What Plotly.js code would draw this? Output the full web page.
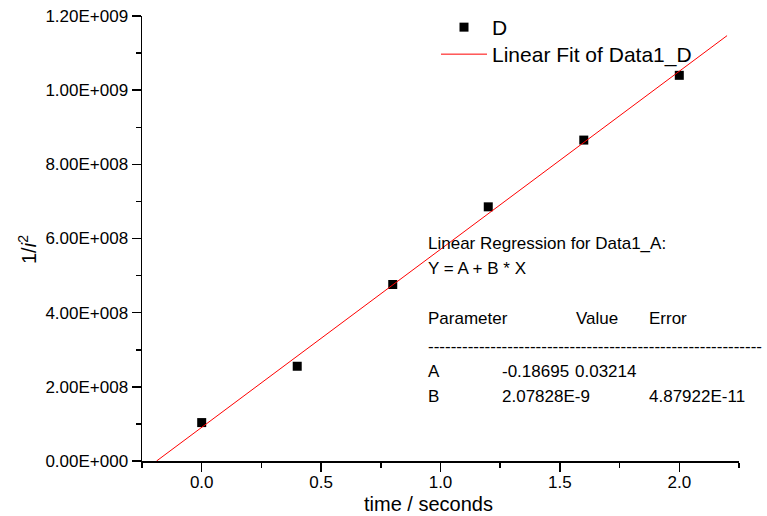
<!DOCTYPE html>
<html>
<head>
<meta charset="utf-8">
<script src="https://cdn.plot.ly/plotly-3.0.1.min.js"></script>
<style>html,body{margin:0;padding:0;background:#fff;}#chart{width:767px;height:516px;}</style>
</head>
<body>
<div id="chart"></div>
<script>
// ---- data ----
const timeSeconds = [0.0, 0.4, 0.8, 1.2, 1.6, 2.0];
const invISquared = [1.036e8, 2.555e8, 4.76e8, 6.854e8, 8.654e8, 1.040e9];
const fitX = [-0.189, 2.2];
const fitY = [0, 1.147e9];
const yTickVals = [0, 2e8, 4e8, 6e8, 8e8, 1e9, 1.2e9];
const yTickText = ['0.00E+000', '2.00E+008', '4.00E+008', '6.00E+008', '8.00E+008', '1.00E+009', '1.20E+009'];
const regTitle = ['Linear Regression for Data1_A:', 'Y = A + B * X'];
const paramHeader = ['Parameter', 'Value', 'Error'];
const paramNames = ['A', 'B'];
const paramValues = ['-0.18695', '2.07828E-9'];
const paramErrors = ['0.03214', '4.87922E-11'];

// ---- layout helpers (pixel -> paper) ----
const W = 767, H = 516, L = 142, R = 28, T = 16, B = 55;
const pw = W - L - R, ph = H - T - B;
const px = v => (v - L) / pw;
const py = v => (H - B - v) / ph;
const FONT = 'Arial, "Liberation Sans", sans-serif';

function ann(text, x, y, extra) {
  return Object.assign({
    text: text, xref: 'paper', yref: 'paper', x: px(x), y: py(y),
    xanchor: 'left', yanchor: 'middle', showarrow: false,
    font: {family: FONT, size: 17, color: '#000'}
  }, extra || {});
}

const annotations = [
  ann(regTitle[0], 426, 243),
  ann(regTitle[1], 426, 268),
  ann(paramHeader[0], 426, 319),
  ann(paramHeader[1], 574, 319),
  ann(paramHeader[2], 647, 319),
  ann('-'.repeat(59), 426, 346),
  ann(paramNames[0], 426, 371),
  ann(paramValues[0], 500, 371),
  ann(paramErrors[0], 573, 371),
  ann(paramNames[1], 426, 396),
  ann(paramValues[1], 500, 396),
  ann(paramErrors[1], 647, 396),
  ann('time / seconds', 428, 504, {xanchor: 'center', font: {family: FONT, size: 20, color: '#000'}}),
  ann('1/<i>i</i><sup>2</sup>', 27, 250, {xanchor: 'center', textangle: -90, font: {family: FONT, size: 20, color: '#000'}})
];

const traces = [
  {
    x: timeSeconds, y: invISquared, name: 'D', type: 'scatter', mode: 'markers',
    marker: {symbol: 'square', size: 9, color: '#000'}, cliponaxis: false, legend: 'legend'
  },
  {
    x: fitX, y: fitY, name: 'Linear Fit of Data1_D', type: 'scatter', mode: 'lines',
    line: {color: '#ff0000', width: 1}, legend: 'legend2'
  }
];

function legendAt(topPx) {
  return {
    x: px(436), y: py(topPx), xanchor: 'left', yanchor: 'top',
    bgcolor: 'rgba(0,0,0,0)', borderwidth: 0,
    font: {family: FONT, size: 21, color: '#000'},
    itemwidth: 46
  };
}

const layout = {
  width: W, height: H,
  margin: {l: L, r: R, t: T, b: B, pad: 0, autoexpand: false},
  paper_bgcolor: '#fff', plot_bgcolor: '#fff',
  font: {family: FONT, size: 17, color: '#000'},
  showlegend: true,
  legend: legendAt(7),
  legend2: legendAt(34),
  xaxis: {
    range: [-0.25, 2.25], tickmode: 'linear', tick0: 0, dtick: 0.5, tickformat: '.1f',
    showgrid: false, zeroline: false, showline: true, linecolor: '#000', linewidth: 1.5,
    ticks: 'outside', ticklen: 9, tickwidth: 1.5, tickcolor: '#000',
    ticklabelstandoff: -4,
    tickfont: {family: FONT, size: 17, color: '#000'},
    minor: {tick0: 0.25, dtick: 0.5, ticks: 'outside', ticklen: 5, tickwidth: 1.5, tickcolor: '#000', showgrid: false},
    fixedrange: true
  },
  yaxis: {
    range: [0, 1.2e9], tickmode: 'array', tickvals: yTickVals, ticktext: yTickText,
    showgrid: false, zeroline: false, showline: true, linecolor: '#000', linewidth: 1.5,
    ticks: 'outside', ticklen: 9, tickwidth: 1.5, tickcolor: '#000',
    tickfont: {family: FONT, size: 17, color: '#000'},
    minor: {tick0: 1e8, dtick: 2e8, ticks: 'outside', ticklen: 5, tickwidth: 1.5, tickcolor: '#000', showgrid: false},
    fixedrange: true
  },
  annotations: annotations
};

Plotly.newPlot('chart', traces, layout, {displayModeBar: false, staticPlot: true});
</script>
</body>
</html>
